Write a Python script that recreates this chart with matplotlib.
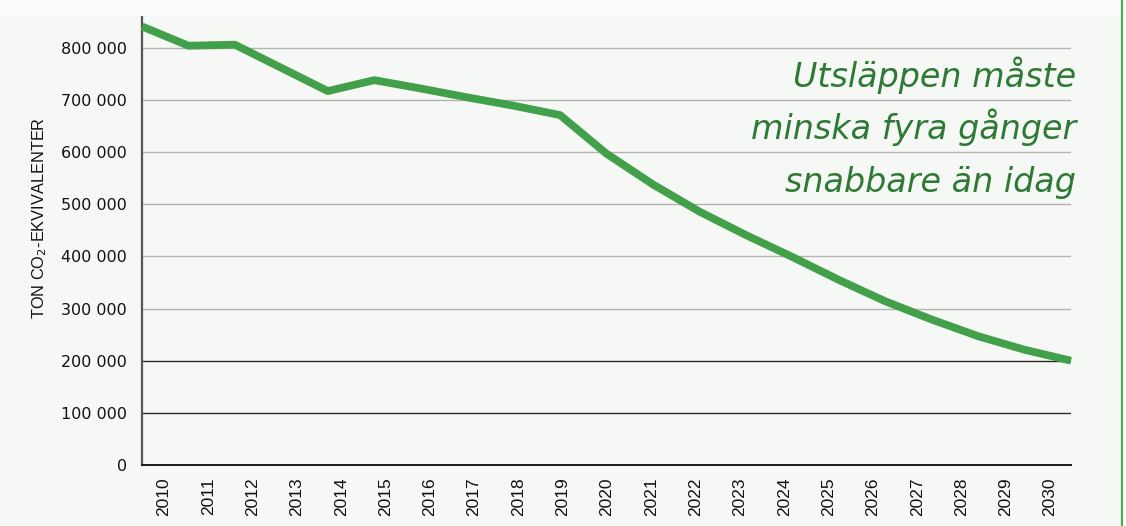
import matplotlib
matplotlib.use("Agg")
import matplotlib.pyplot as plt
from matplotlib.patches import Rectangle
from matplotlib.lines import Line2D
import numpy as np

# ---- data ----
years = [2010, 2011, 2012, 2014, 2015, 2016, 2017, 2018, 2019,
         2020, 2021, 2022, 2023, 2024, 2025, 2026, 2027, 2028, 2029, 2030]
emissions = [841000, 804000, 806000, 717000, 738000, 722000, 705000, 689000, 671000,
             597000, 538000, 486000, 441000, 399000, 355000, 314000, 279000, 247000, 221000, 200000]
tick_labels = [str(y) for y in range(2010, 2031)]
yticks = [0, 100000, 200000, 300000, 400000, 500000, 600000, 700000, 800000]
ytick_labels = ["0", "100 000", "200 000", "300 000", "400 000", "500 000",
                "600 000", "700 000", "800 000"]
title_lines = ["Utsläppen måste", "minska fyra gånger", "snabbare än idag"]
ylabel = "TON CO$_2$-EKVIVALENTER"

W, H = 1126, 526
fig = plt.figure(figsize=(W / 100, H / 100), dpi=100)
fig.patch.set_facecolor("#f6f8f5")
fig.patches.append(Rectangle((0, 1 - 16 / H), 1, 16 / H, transform=fig.transFigure,
                             facecolor="#fbfcfb", edgecolor="none", zorder=0))
fig.patches.append(Rectangle((1123 / W, 0), 3 / W, 1, transform=fig.transFigure,
                             facecolor="white", edgecolor="none", zorder=0))
fig.lines.append(Line2D([1122 / W, 1122 / W], [0, 1], transform=fig.transFigure,
                        color="#4caf50", lw=1.6))

ax = fig.add_axes([142 / W, (H - 465) / H, (1071 - 142) / W, (465 - 16) / H])
ax.set_facecolor("none")

for v in yticks[1:]:
    col = "#2a2a2a" if v <= 200000 else "#b3b3b3"
    ax.axhline(v, color=col, lw=1.0, zorder=1)

ax.plot(years, emissions, color="#43a04a", lw=5.6, solid_capstyle="butt",
        solid_joinstyle="round", zorder=3, clip_on=False)

ax.set_xlim(2010, 2030)
ax.set_ylim(0, 861000)

xt = 2010.473 + 0.9538 * np.arange(len(tick_labels))
ax.set_xticks(xt)
ax.set_xticklabels(tick_labels, rotation=90, fontsize=12.5, family="Liberation Sans",
                   color="#111111")
ax.set_yticks(yticks)
ax.set_yticklabels(ytick_labels, fontsize=11.5, family="DejaVu Sans", color="#111111",
                   fontweight="medium")
ax.tick_params(axis="x", length=0, pad=9)
ax.tick_params(axis="y", length=0, pad=11)

for s in ["top", "right"]:
    ax.spines[s].set_visible(False)
ax.spines["left"].set_color("#555555")
ax.spines["left"].set_linewidth(1.6)
ax.spines["bottom"].set_color("#1a1a1a")
ax.spines["bottom"].set_linewidth(1.4)

fig.text(40 / W, 1 - 218 / H, ylabel, rotation=90, ha="center", va="center",
         fontsize=11.8, family="Liberation Sans", color="#111111")

baselines = [87, 139.5, 192]
for line, b in zip(title_lines, baselines):
    fig.text(1076 / W, 1 - b / H, line, ha="right", va="baseline", fontsize=24,
             style="italic", family="DejaVu Sans", color="#2e7a35")

fig.savefig("out.png", dpi=100, facecolor=fig.get_facecolor())
